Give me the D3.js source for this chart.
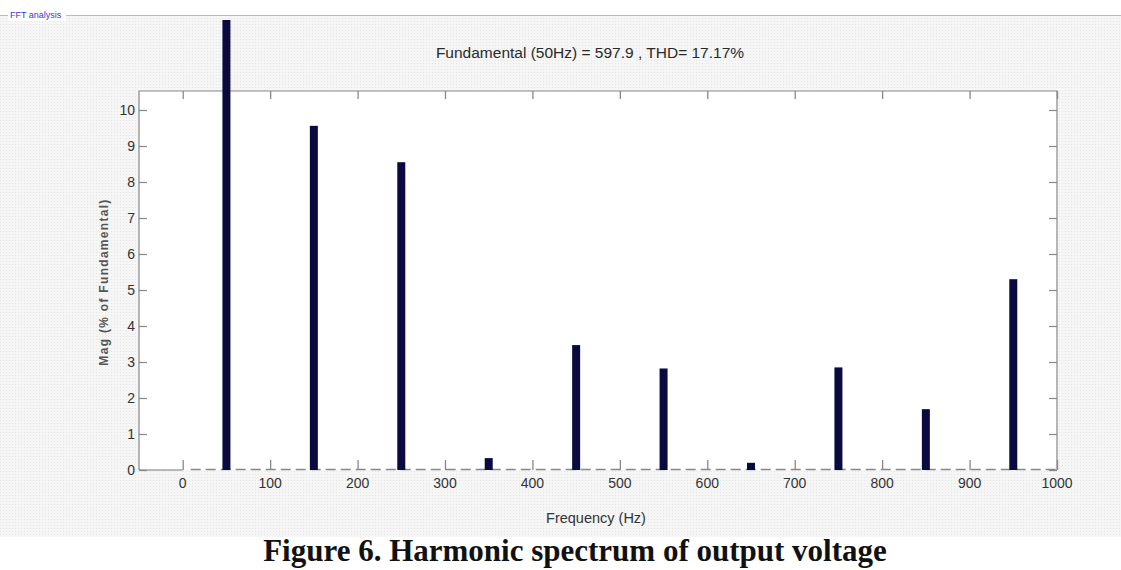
<!DOCTYPE html>
<html>
<head>
<meta charset="utf-8">
<script src="https://cdn.jsdelivr.net/npm/d3@7"></script>
<style>
  body { margin: 0; background: #fff; }
  svg { display: block; font-family: Arial, "Liberation Sans", sans-serif; }
</style>
</head>
<body>
<div id="chart"></div>
<script>
// harmonic frequencies (Hz) and magnitude (% of fundamental)
var freqs = [50, 150, 250, 350, 450, 550, 650, 750, 850, 950];
var mags = [100, 9.56, 8.55, 0.33, 3.47, 2.82, 0.2, 2.85, 1.69, 5.3];
var xTicks = [0, 100, 200, 300, 400, 500, 600, 700, 800, 900, 1000];
var yTicks = [0, 1, 2, 3, 4, 5, 6, 7, 8, 9, 10];
var titleText = "Fundamental (50Hz) = 597.9 , THD= 17.17%";
var captionText = "Figure 6. Harmonic spectrum of output voltage";

var width = 1121, height = 570;
var box = {left: 139, right: 1057, top: 91, bottom: 470};

var svg = d3.select('#chart')
  .append('svg')
  .attr('width', width)
  .attr('height', height);

// dotted grey panel behind the figure
var defs = svg.append('defs');
var pat = defs.append('pattern')
  .attr('id', 'dots')
  .attr('width', 3).attr('height', 3)
  .attr('patternUnits', 'userSpaceOnUse');
pat.append('rect').attr('width', 3).attr('height', 3).attr('fill', '#f6f6f6');
pat.append('rect').attr('width', 1).attr('height', 1).attr('fill', '#e6e6e6');

svg.append('rect')
  .attr('x', 0).attr('y', 15)
  .attr('width', width).attr('height', 522)
  .attr('fill', 'url(#dots)');

// group box header
svg.append('line')
  .attr('x1', 0).attr('x2', width)
  .attr('y1', 15.5).attr('y2', 15.5)
  .attr('stroke', '#bbb');
svg.append('rect')
  .attr('x', 8).attr('y', 9).attr('width', 58).attr('height', 12)
  .attr('fill', '#fff');
svg.append('text')
  .attr('x', 10).attr('y', 18)
  .attr('font-size', 9)
  .attr('fill', '#3a3ad0')
  .text('FFT analysis');

var x = d3.scaleLinear().domain([-50, 1000]).range([box.left, box.right]);
var y = d3.scaleLinear().domain([0, 10]).range([box.bottom, 110]);

// axes area
svg.append('rect')
  .attr('x', box.left).attr('y', box.top)
  .attr('width', box.right - box.left).attr('height', box.bottom - box.top)
  .attr('fill', '#fff');

// zero baseline (dashed)
svg.append('line')
  .attr('x1', box.left).attr('x2', x(0))
  .attr('y1', box.bottom).attr('y2', box.bottom)
  .attr('stroke', '#777').attr('stroke-width', 1.2);
svg.append('line')
  .attr('x1', x(0) + 8).attr('x2', box.right)
  .attr('y1', box.bottom - 0.5).attr('y2', box.bottom - 0.5)
  .attr('stroke', '#888').attr('stroke-width', 1.3)
  .attr('stroke-dasharray', '10,5');

// box edges (top, left, right)
svg.append('path')
  .attr('d', 'M' + box.left + ',' + box.bottom + 'V' + box.top + 'H' + box.right + 'V' + box.bottom)
  .attr('fill', 'none')
  .attr('stroke', '#888').attr('stroke-width', 1.2);

// axes with inward ticks
var xAxis = svg.append('g')
  .attr('transform', 'translate(0,' + box.bottom + ')')
  .call(d3.axisTop(x).tickValues(xTicks).tickSize(10).tickFormat(''));
xAxis.select('.domain').remove();
xAxis.selectAll('line').attr('stroke', '#888').attr('stroke-width', 1.3);

svg.append('g')
  .selectAll('text')
  .data(xTicks)
  .enter()
  .append('text')
  .attr('x', function(d){ return x(d) })
  .attr('y', box.bottom + 18)
  .attr('text-anchor', 'middle')
  .attr('font-size', 14)
  .attr('fill', '#333')
  .text(function(d){ return d });

var xTop = svg.append('g')
  .attr('transform', 'translate(0,' + box.top + ')')
  .call(d3.axisBottom(x).tickValues(xTicks).tickSize(8).tickFormat(''));
xTop.select('.domain').remove();
xTop.selectAll('line').attr('stroke', '#888').attr('stroke-width', 1.3);

var yAxis = svg.append('g')
  .attr('transform', 'translate(' + box.left + ',0)')
  .call(d3.axisRight(y).tickValues(yTicks).tickSize(8).tickFormat(''));
yAxis.select('.domain').remove();
yAxis.selectAll('line').attr('stroke', '#888').attr('stroke-width', 1.2);

svg.append('g')
  .selectAll('text')
  .data(yTicks)
  .enter()
  .append('text')
  .attr('x', box.left - 4)
  .attr('y', function(d){ return y(d) + 5 })
  .attr('text-anchor', 'end')
  .attr('font-size', 14)
  .attr('fill', '#333')
  .text(function(d){ return d });

var yRight = svg.append('g')
  .attr('transform', 'translate(' + box.right + ',0)')
  .call(d3.axisLeft(y).tickValues(yTicks).tickSize(8).tickFormat(''));
yRight.select('.domain').remove();
yRight.selectAll('line').attr('stroke', '#888').attr('stroke-width', 1.2);

// bars, the fundamental runs off the top of the axes
defs.append('clipPath').attr('id', 'clip')
  .append('rect')
  .attr('x', 0).attr('y', 20)
  .attr('width', width).attr('height', box.bottom - 20);

var barW = 8;
svg.append('g')
  .attr('clip-path', 'url(#clip)')
  .selectAll('rect')
  .data(freqs)
  .enter()
  .append('rect')
  .attr('x', function(d){ return x(d) - barW / 2 })
  .attr('y', function(d, i){ return y(mags[i]) })
  .attr('width', barW)
  .attr('height', function(d, i){ return box.bottom - y(mags[i]) })
  .attr('fill', '#0a0a40');

// texts
svg.append('text')
  .attr('x', 590).attr('y', 58)
  .attr('text-anchor', 'middle')
  .attr('font-size', 15.5)
  .attr('fill', '#2a2a2a')
  .text(titleText);

svg.append('text')
  .attr('x', 596).attr('y', 523)
  .attr('text-anchor', 'middle')
  .attr('font-size', 14.5)
  .attr('fill', '#333')
  .text('Frequency (Hz)');

svg.append('text')
  .attr('transform', 'translate(108,' + 282 + ') rotate(-90)')
  .attr('text-anchor', 'middle')
  .attr('font-size', 12)
  .attr('font-weight', 'bold')
  .attr('letter-spacing', 1.3)
  .attr('fill', '#555')
  .text('Mag (% of Fundamental)');

// caption below the figure
svg.append('rect')
  .attr('x', 0).attr('y', 537)
  .attr('width', width).attr('height', height - 537)
  .attr('fill', '#fff');
svg.append('text')
  .attr('x', 575).attr('y', 561)
  .attr('text-anchor', 'middle')
  .attr('font-family', '"Liberation Serif", "Times New Roman", serif')
  .attr('font-weight', 'bold')
  .attr('font-size', 31)
  .attr('fill', '#111')
  .text(captionText);
</script>
</body>
</html>
